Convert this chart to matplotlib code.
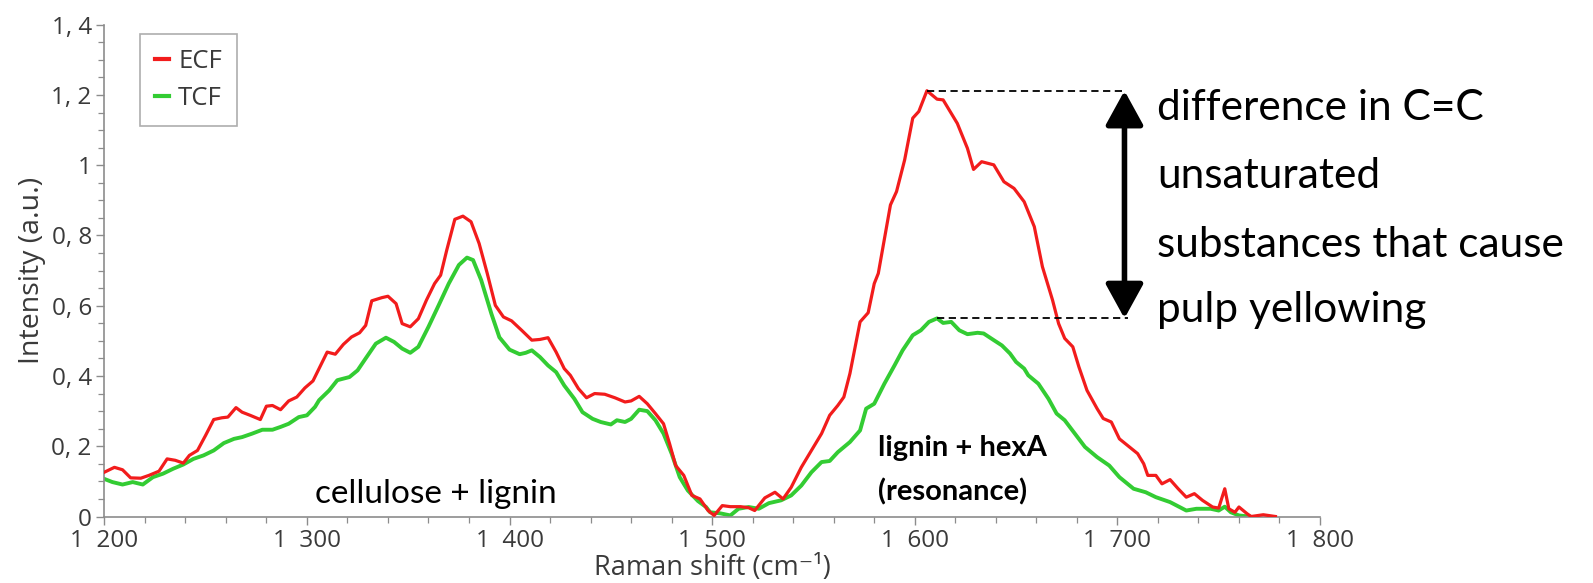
import matplotlib
matplotlib.use("Agg")
import matplotlib.pyplot as plt
from matplotlib.ticker import MultipleLocator, FuncFormatter
import numpy as np

# ---------------- data ----------------
ecf_x = [1200, 1205, 1209, 1213, 1218, 1222, 1227, 1231, 1235, 1239, 1242, 1246, 1250, 1254,
         1258, 1261, 1265, 1268, 1272, 1277, 1280, 1283, 1287, 1291, 1295, 1299, 1303, 1306,
         1310, 1314, 1318, 1322, 1326, 1329, 1332, 1337, 1340, 1344, 1347, 1351, 1355, 1359,
         1363, 1366, 1369, 1373, 1377, 1381, 1385, 1389, 1393, 1397, 1401, 1406, 1411, 1415,
         1419, 1423, 1427, 1430, 1434, 1438, 1442, 1447, 1452, 1457, 1460, 1464, 1468, 1472,
         1476, 1479, 1482, 1486, 1490, 1494, 1498, 1501, 1505, 1509, 1514, 1518, 1521, 1526,
         1531, 1535, 1539, 1544, 1549, 1554, 1558, 1562, 1565, 1568, 1573, 1577, 1580, 1582,
         1588, 1591, 1595, 1599, 1602, 1606, 1611, 1614, 1621, 1626, 1629, 1633, 1639, 1644,
         1649, 1654, 1659, 1663, 1665, 1668, 1671, 1674, 1678, 1681, 1685, 1690, 1693, 1697,
         1701, 1704, 1710, 1713, 1715, 1719, 1722, 1726, 1730, 1734, 1738, 1742, 1747, 1750,
         1753, 1755, 1758, 1760, 1764, 1766, 1772, 1778]
ecf_y = [0.126, 0.140, 0.133, 0.110, 0.109, 0.117, 0.129, 0.164, 0.160, 0.152, 0.174, 0.188, 0.231, 0.276,
         0.281, 0.283, 0.310, 0.297, 0.288, 0.276, 0.314, 0.316, 0.304, 0.329, 0.340, 0.366, 0.386, 0.421,
         0.468, 0.462, 0.490, 0.511, 0.523, 0.544, 0.614, 0.623, 0.627, 0.606, 0.549, 0.540, 0.563, 0.616,
         0.663, 0.687, 0.758, 0.846, 0.855, 0.839, 0.777, 0.692, 0.601, 0.568, 0.557, 0.530, 0.502, 0.504,
         0.509, 0.468, 0.421, 0.402, 0.364, 0.338, 0.350, 0.348, 0.338, 0.326, 0.329, 0.342, 0.321, 0.293,
         0.264, 0.207, 0.145, 0.117, 0.060, 0.050, 0.017, 0.003, 0.031, 0.028, 0.028, 0.025, 0.017, 0.053,
         0.069, 0.050, 0.083, 0.140, 0.188, 0.236, 0.288, 0.316, 0.340, 0.407, 0.554, 0.580, 0.663, 0.692,
         0.887, 0.925, 1.015, 1.134, 1.153, 1.212, 1.188, 1.186, 1.119, 1.048, 0.988, 1.010, 1.001, 0.953,
         0.934, 0.896, 0.825, 0.711, 0.673, 0.616, 0.549, 0.507, 0.483, 0.426, 0.359, 0.307, 0.279, 0.269,
         0.221, 0.207, 0.179, 0.150, 0.117, 0.117, 0.093, 0.105, 0.079, 0.055, 0.065, 0.046, 0.027, 0.024,
         0.079, 0.022, 0.012, 0.027, 0.008, 0.000, 0.005, 0.000]

tcf_x = [1200, 1204, 1209, 1214, 1219, 1224, 1229, 1234, 1239, 1244, 1249, 1254, 1259, 1264,
         1268, 1273, 1278, 1283, 1287, 1291, 1296, 1300, 1304, 1306, 1311, 1315, 1321, 1325,
         1329, 1334, 1339, 1343, 1347, 1351, 1355, 1360, 1365, 1370, 1375, 1379, 1382, 1386,
         1391, 1395, 1400, 1405, 1408, 1411, 1415, 1419, 1423, 1427, 1432, 1436, 1441, 1445,
         1450, 1453, 1457, 1460, 1464, 1468, 1472, 1476, 1480, 1484, 1488, 1493, 1497, 1499,
         1504, 1509, 1513, 1518, 1523, 1528, 1534, 1539, 1544, 1549, 1554, 1558, 1562, 1568,
         1573, 1576, 1580, 1585, 1590, 1594, 1599, 1603, 1607, 1611, 1614, 1618, 1622, 1626,
         1631, 1634, 1639, 1643, 1647, 1650, 1654, 1656, 1661, 1666, 1670, 1674, 1679, 1684,
         1690, 1696, 1701, 1708, 1714, 1719, 1726, 1734, 1739, 1746, 1750, 1753, 1756, 1760, 1765]
tcf_y = [0.107, 0.098, 0.091, 0.098, 0.091, 0.112, 0.122, 0.136, 0.148, 0.164, 0.174, 0.188, 0.209, 0.221,
         0.226, 0.236, 0.247, 0.247, 0.255, 0.264, 0.283, 0.288, 0.312, 0.331, 0.359, 0.388, 0.397, 0.416,
         0.450, 0.492, 0.509, 0.497, 0.478, 0.466, 0.483, 0.540, 0.601, 0.663, 0.716, 0.737, 0.730, 0.673,
         0.578, 0.510, 0.475, 0.462, 0.466, 0.473, 0.454, 0.430, 0.411, 0.373, 0.335, 0.297, 0.278, 0.269,
         0.262, 0.274, 0.269, 0.278, 0.304, 0.300, 0.274, 0.236, 0.179, 0.112, 0.074, 0.044, 0.027, 0.012,
         0.009, 0.003, 0.022, 0.027, 0.022, 0.038, 0.046, 0.060, 0.088, 0.126, 0.155, 0.158, 0.183, 0.212,
         0.245, 0.307, 0.321, 0.378, 0.430, 0.473, 0.516, 0.530, 0.554, 0.564, 0.551, 0.554, 0.530, 0.519,
         0.523, 0.521, 0.502, 0.487, 0.464, 0.440, 0.421, 0.402, 0.378, 0.335, 0.293, 0.274, 0.236, 0.198,
         0.169, 0.145, 0.112, 0.079, 0.069, 0.055, 0.041, 0.017, 0.022, 0.022, 0.017, 0.028, 0.012, 0.003, 0.000]

series_labels = ["ECF", "TCF"]
x_label = "Raman shift (cm\u207b\u00b9)"
y_label = "Intensity (a.u.)"
label_cellulose = "cellulose + lignin"
label_hexa = ["lignin + hexA", "(resonance)"]
note_lines = ["difference in C=C", "unsaturated", "substances that cause", "pulp yellowing"]
ecf_peak = (1606, 1.212)
tcf_peak = (1611, 0.564)
arrow_x = 1703.5

# ---------------- figure ----------------
W, H = 1593, 583
fig = plt.figure(figsize=(W / 100, H / 100), dpi=100)
ax = fig.add_axes([104.3 / W, 1 - 516.5 / H, (1320 - 104.3) / W, (516.5 - 24.7) / H])

red = "#f21c1c"
green = "#33cc33"
ax.plot(ecf_x, ecf_y, color=red, lw=2.3, label=series_labels[0], solid_joinstyle="round", zorder=3)
ax.plot(tcf_x, tcf_y, color=green, lw=2.8, label=series_labels[1], solid_joinstyle="round", zorder=2)

ax.set_xlim(1200, 1800)
ax.set_ylim(0, 1.4)

tick_font = "Open Sans"
gray = "#8c8c8c"
txtgray = "#3a3a3a"
for s in ["top", "right"]:
    ax.spines[s].set_visible(False)
for s in ["left", "bottom"]:
    ax.spines[s].set_color(gray)
    ax.spines[s].set_linewidth(1.2)

ax.xaxis.set_major_locator(MultipleLocator(100))
ax.xaxis.set_minor_locator(MultipleLocator(20))
ax.yaxis.set_major_locator(MultipleLocator(0.2))
ax.yaxis.set_minor_locator(MultipleLocator(0.05))

def xfmt(v, pos):
    v = int(round(v))
    return f"{v // 1000}  {v % 1000:03d}"

def yfmt(v, pos):
    if abs(v - round(v)) < 1e-9:
        return f"{int(round(v))}"
    return f"{v:.1f}".replace(".", ", ")

ax.xaxis.set_major_formatter(FuncFormatter(xfmt))
ax.yaxis.set_major_formatter(FuncFormatter(yfmt))
ax.tick_params(axis="both", which="major", length=6, width=1.0, color=gray,
               labelsize=17.5, labelcolor=txtgray, direction="out", pad=3)
ax.tick_params(axis="both", which="minor", length=4, width=0.9, color=gray, direction="out")
for lab in ax.get_xticklabels() + ax.get_yticklabels():
    lab.set_fontfamily(tick_font)

ax.set_xlabel(x_label, fontsize=19.5, color=txtgray, fontfamily=[tick_font, "DejaVu Sans"], labelpad=1)
ax.set_ylabel(y_label, fontsize=20.5, color=txtgray, fontfamily=tick_font, labelpad=4)

leg = ax.legend(loc="upper left", bbox_to_anchor=(139.5 / W, 1 - 34 / H), bbox_transform=fig.transFigure,
                borderaxespad=0, frameon=True, fancybox=False, handlelength=0.55, handletextpad=0.35,
                labelspacing=0.45, borderpad=0.6, prop={"family": tick_font, "size": 18.5})
leg.get_frame().set_edgecolor("#9a9a9a")
leg.get_frame().set_linewidth(1.2)
for t in leg.get_texts():
    t.set_color(txtgray)
for h in leg.get_lines():
    h.set_linewidth(3)

ann_font = "Lato"
# dashed reference lines
ax.plot([ecf_peak[0], arrow_x], [ecf_peak[1], ecf_peak[1]], color="black", lw=1.3,
        linestyle=(0, (4, 2.5)), zorder=4)
ax.plot([tcf_peak[0], arrow_x + 1.5], [tcf_peak[1], tcf_peak[1]], color="black", lw=1.3,
        linestyle=(0, (4, 2.5)), zorder=4)
ax.annotate("", xy=(arrow_x, tcf_peak[1]), xytext=(arrow_x, ecf_peak[1]),
            arrowprops=dict(arrowstyle="<|-|>,head_length=1.0,head_width=0.55", color="black",
                            lw=4, shrinkA=0, shrinkB=0, mutation_scale=21), zorder=5)

ax.text(1363.5, 0.038, label_cellulose, fontsize=24, fontfamily=ann_font, color="black",
        va="baseline", ha="center")
ax.text(1582, 0.172, label_hexa[0], fontsize=21, fontfamily=ann_font, fontweight="bold",
        color="black", va="baseline", ha="left")
ax.text(1582, 0.046, label_hexa[1], fontsize=21, fontfamily=ann_font, fontweight="bold",
        color="black", va="baseline", ha="left")

baselines_px = [120, 188, 257, 322]
for line, by in zip(note_lines, baselines_px):
    fig.text(1157 / W, 1 - by / H, line, fontsize=30.5, fontfamily=ann_font, color="black",
             va="baseline", ha="left")

fig.savefig("out.png", dpi=100)
